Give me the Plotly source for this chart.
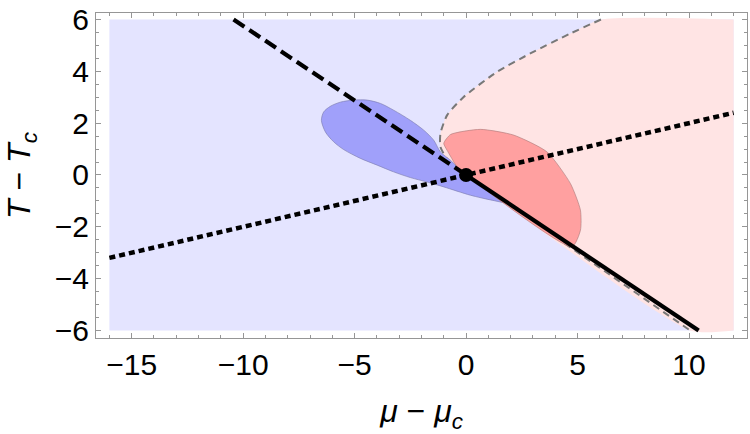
import plotly.graph_objects as go

# ---- data ----
region_x = [-16, 12, 12, -16]
region_y = [-6, -6, 6, 6]

# pink region boundary (first-order / spinodal curve)
pink_x = [12, 6.05, 4.68, 2.88, 1.39, -0.11, -0.85, -1.15, -1.15, -0.8, 0, 10.05, 12]
pink_y = [6, 6.0, 5.46, 4.69, 3.98, 3.01, 2.31, 1.60, 1.08, 0.55, 0, -6, -6]

# gray dashed boundary, upper and lower branches
gray_up_x = [6.05, 4.68, 2.88, 1.39, -0.11, -0.85, -1.15, -1.15, -0.8, 0]
gray_up_y = [6.0, 5.46, 4.69, 3.98, 3.01, 2.31, 1.60, 1.08, 0.55, 0]
gray_lo_x = [0, 10.05]
gray_lo_y = [0, -6]

# blue lobe
blue_x = [0, -0.70, -1.15, -1.45, -1.90, -2.50, -3.25, -3.84, -4.44, -5.04, -5.64, -6.09, -6.39,
          -6.49, -6.31, -5.94, -5.49, -4.74, -3.99, -3.25, -2.50, -1.75, -1.00, 0.19, 1.2, 1.85, 0]
blue_y = [0, 0.57, 0.89, 1.34, 1.73, 2.11, 2.50, 2.76, 2.89, 2.89, 2.81, 2.65, 2.43,
          2.11, 1.66, 1.28, 0.98, 0.64, 0.38, 0.12, -0.10, -0.27, -0.46, -0.78, -0.98, -1.07, 0]

# red lobe
red_x = [0, -0.40, -0.85, -1.0, -0.70, 0.64, 2.13, 3.63, 4.68, 5.13, 5.13, 4.75, 0]
red_y = [0, 0.31, 0.95, 1.22, 1.56, 1.76, 1.54, 0.89, -0.33, -1.36, -2.13, -2.77, 0]

# straight lines
dashed_x = [-10.43, 0]
dashed_y = [6, 0]
solid_x = [0, 10.43]
solid_y = [0, -6]
dotted_x = [-16, 12]
dotted_y = [-3.2, 2.4]
crit_x = [0]
crit_y = [0]

x_ticks = [-15, -10, -5, 0, 5, 10]
y_ticks = [-6, -4, -2, 0, 2, 4, 6]

fig = go.Figure()
fig.add_trace(go.Scatter(x=region_x, y=region_y, fill="toself", mode="none",
                         fillcolor="rgb(228,228,255)", hoverinfo="skip"))
fig.add_trace(go.Scatter(x=pink_x, y=pink_y, fill="toself", mode="none",
                         fillcolor="rgb(255,228,228)", line=dict(shape="spline", smoothing=0.6),
                         hoverinfo="skip"))
fig.add_trace(go.Scatter(x=gray_up_x, y=gray_up_y, mode="lines",
                         line=dict(color="rgb(120,120,120)", width=2, dash="7px,5px",
                                   shape="spline", smoothing=0.6)))
fig.add_trace(go.Scatter(x=gray_lo_x, y=gray_lo_y, mode="lines",
                         line=dict(color="rgb(120,120,120)", width=2, dash="7px,5px")))
fig.add_trace(go.Scatter(x=blue_x, y=blue_y, fill="toself", mode="lines",
                         fillcolor="rgb(160,160,250)",
                         line=dict(color="rgb(120,120,170)", width=0.6, shape="spline", smoothing=0.8)))
fig.add_trace(go.Scatter(x=red_x, y=red_y, fill="toself", mode="lines",
                         fillcolor="rgb(255,160,160)",
                         line=dict(color="rgb(170,120,120)", width=0.6, shape="spline", smoothing=0.6)))
fig.add_trace(go.Scatter(x=dotted_x, y=dotted_y, mode="lines",
                         line=dict(color="black", width=4.5, dash="6px,4px")))
fig.add_trace(go.Scatter(x=dashed_x, y=dashed_y, mode="lines",
                         line=dict(color="black", width=4.2, dash="13px,6px")))
fig.add_trace(go.Scatter(x=solid_x, y=solid_y, mode="lines",
                         line=dict(color="black", width=4.2)))
fig.add_trace(go.Scatter(x=crit_x, y=crit_y, mode="markers",
                         marker=dict(color="black", size=14)))

axis_common = dict(
    showgrid=False, zeroline=False, showline=True, mirror="allticks",
    linecolor="rgb(150,150,150)", linewidth=1,
    ticks="inside", ticklen=5, tickcolor="rgb(150,150,150)", tickwidth=1,
    tickfont=dict(family="Liberation Sans, Arial", size=30, color="black"),
)
fig.update_xaxes(range=[-16.6, 12.6], tickvals=x_ticks,
                 minor=dict(dtick=1, ticklen=3, tickcolor="rgb(150,150,150)", ticks="inside"),
                 title=dict(text="<i>μ</i> − <i>μ</i><sub><i>c</i></sub>",
                            font=dict(family="Liberation Sans, Arial", size=32, color="black"),
                            standoff=23),
                 **axis_common)
fig.update_yaxes(range=[-6.29, 6.25], tickvals=y_ticks,
                 minor=dict(dtick=0.5, ticklen=3, tickcolor="rgb(150,150,150)", ticks="inside"),
                 title=dict(text="<i>T</i> − <i>T</i><sub><i>c</i></sub>",
                            font=dict(family="Liberation Sans, Arial", size=32, color="black"),
                            standoff=14),
                 **axis_common)
fig.update_layout(width=750, height=434, showlegend=False,
                  margin=dict(l=96, r=3, t=13, b=96),
                  plot_bgcolor="white", paper_bgcolor="white")
fig.write_html("out.html")
